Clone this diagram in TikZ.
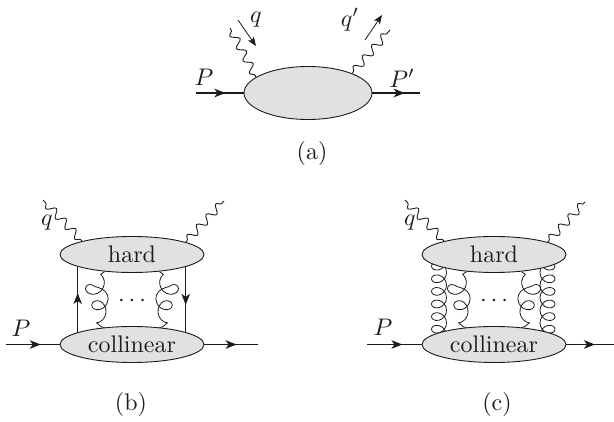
\documentclass[tikz,border=0pt]{standalone}
\usepackage{graphicx}
\usetikzlibrary{arrows.meta,decorations.pathmorphing,decorations.markings,shapes.geometric}
\pgfdeclarelayer{back}
\pgfsetlayers{back,main}
\definecolor{ink}{HTML}{1C1C1C}
\definecolor{blob}{HTML}{E0E1E3}
\newcommand{\bigtxt}[1]{\scalebox{2.4}{#1}}
\tikzset{
  x=1pt,y=-1pt,
  every node/.style={text=ink},
  lab/.style={inner sep=0pt},
  blobshape/.style={ellipse,draw=ink,fill=blob,line width=0.9pt,inner sep=0pt,minimum width=144pt,minimum height=36pt},
  tip/.style={decoration={markings,mark=at position #1 with {\arrow{Stealth[length=11pt,width=8.5pt,inset=3pt]}}},postaction={decorate}},
  fermion/.style={draw=ink,line width=1.3pt},
  thickline/.style={draw=ink,line width=2pt},
  photon/.style={draw=ink,line width=0.9pt,decorate,decoration={snake,segment length=14pt,amplitude=4pt,post length=0pt,pre length=2pt}},
  gluon/.style={draw=ink,line width=0.8pt,decorate,decoration={coil,aspect=0.95,segment length=13.5pt,amplitude=8pt,pre length=5pt,post length=3pt}},
  gluonm/.style={draw=ink,line width=0.8pt,decorate,decoration={coil,mirror,aspect=0.95,segment length=13.5pt,amplitude=8pt,pre length=5pt,post length=3pt}},
  gluonv/.style={draw=ink,line width=0.8pt,decorate,decoration={coil,aspect=0.9,segment length=12.6pt,amplitude=7.5pt}},
  gluonvm/.style={draw=ink,line width=0.8pt,decorate,decoration={coil,mirror,aspect=0.9,segment length=12.6pt,amplitude=7.5pt}},
  momentum/.style={draw=ink,line width=0.8pt,-{Stealth[length=9pt,width=7pt,inset=2pt]}},
}
\begin{document}
\begin{tikzpicture}
\useasboundingbox (0,0) rectangle (614,422);
% ----- coordinates
\coordinate (ain) at (196,93);
\coordinate (aout) at (420,93);
\coordinate (aqf) at (230,28);
\coordinate (apf) at (390,30);
\coordinate (aqa) at (238,20);
\coordinate (aqb) at (256,46);
\coordinate (apa) at (365,40);
\coordinate (apb) at (382,15);
\coordinate (bin) at (6,344.5);
\coordinate (bout) at (258,344.5);
\coordinate (bqf) at (43,200);
\coordinate (bpf) at (224,201);
\coordinate (cin) at (367,344.5);
\coordinate (cout) at (614,344.5);
\coordinate (cqf) at (405,200);
\coordinate (cpf) at (585,202);
\coordinate (bvl) at (77.7,300);
\coordinate (bvr) at (185.7,300);
\coordinate (cl1) at (439,250);
\coordinate (cl2) at (439,350);
\coordinate (cr1) at (547.5,250);
\coordinate (cr2) at (547.5,350);
% ----- blobs
\node[blobshape,minimum width=128pt,minimum height=53pt] (A) at (308,93) {};
\node[blobshape] (bh) at (132,254.5) {\bigtxt{hard}};
\node[blobshape] (bc) at (132,344.5) {\bigtxt{collinear}};
\node[blobshape] (ch) at (494,254.5) {\bigtxt{hard}};
\node[blobshape] (cc) at (494,344.5) {\bigtxt{collinear}};
% ----- lines under the blobs
\begin{pgfonlayer}{back}
\draw[fermion,tip=0.572] (bvl |- bc.center) -- (bvl |- bh.center);
\draw[fermion,tip=0.56] (bvr |- bh.center) -- (bvr |- bc.center);
\draw[gluonv] (cl1) -- (cl2);
\draw[gluonvm] (cr1) -- (cr2);
\end{pgfonlayer}
% ----- panel a
\draw[thickline,tip=0.62] (ain) -- (A.west);
\draw[thickline,tip=0.68] (A.east) -- (aout);
\draw[photon] (A.163) -- (aqf);
\draw[photon] (A.24) -- (apf);
\draw[momentum] (aqa) -- (aqb);
\draw[momentum] (apa) -- (apb);
\node[lab] (lP) at (204,77) {\bigtxt{$P$}};
\node[lab] (lPp) at (402,78) {\bigtxt{$P'$}};
\node[lab] (lq) at (256,20) {\bigtxt{$q$}};
\node[lab] (lqp) at (350,20) {\bigtxt{$q'$}};
\node[lab] (la) at (312,154) {\bigtxt{(a)}};
% ----- panel b
\draw[fermion,tip=0.65] (bin) -- (bc.west);
\draw[fermion,tip=0.6] (bc.east) -- (bout);
\draw[photon] (bh.165) -- (bqf);
\draw[photon] (bh.13.5) -- (bpf);
\draw[gluon] (bh.212) .. controls (99,273) and (100,277) .. (101,281) .. controls (101,295) and (98,308) .. (97,322) .. controls (96,326) and (100,327) .. (bc.148);
\draw[gluonm] (bh.-32) .. controls (165,273) and (164,277) .. (163,281) .. controls (163,295) and (166,308) .. (167,322) .. controls (168,326) and (164,327) .. (bc.32);
\node[lab] (bdots) at (132,301) {\bigtxt{$\cdots$}};
\node[lab] (bq) at (47,223) {\bigtxt{$q$}};
\node[lab] (bP) at (21,328) {\bigtxt{$P$}};
\node[lab] (lb) at (131,405) {\bigtxt{(b)}};
% ----- panel c
\draw[fermion,tip=0.65] (cin) -- (cc.west);
\draw[fermion,tip=0.6] (cc.east) -- (cout);
\draw[photon] (ch.165) -- (cqf);
\draw[photon] (ch.13.5) -- (cpf);
\draw[gluon] (ch.212) .. controls (461,273) and (462,277) .. (463,281) .. controls (463,295) and (460,308) .. (459,322) .. controls (458,326) and (462,327) .. (cc.148);
\draw[gluonm] (ch.-32) .. controls (527,273) and (526,277) .. (525,281) .. controls (525,295) and (528,308) .. (529,322) .. controls (530,326) and (526,327) .. (cc.32);
\node[lab] (cdots) at (494,301) {\bigtxt{$\cdots$}};
\node[lab] (cq) at (410,223) {\bigtxt{$q$}};
\node[lab] (cP) at (383,327) {\bigtxt{$P$}};
\node[lab] (lc) at (497,405) {\bigtxt{(c)}};
\end{tikzpicture}
\end{document}
